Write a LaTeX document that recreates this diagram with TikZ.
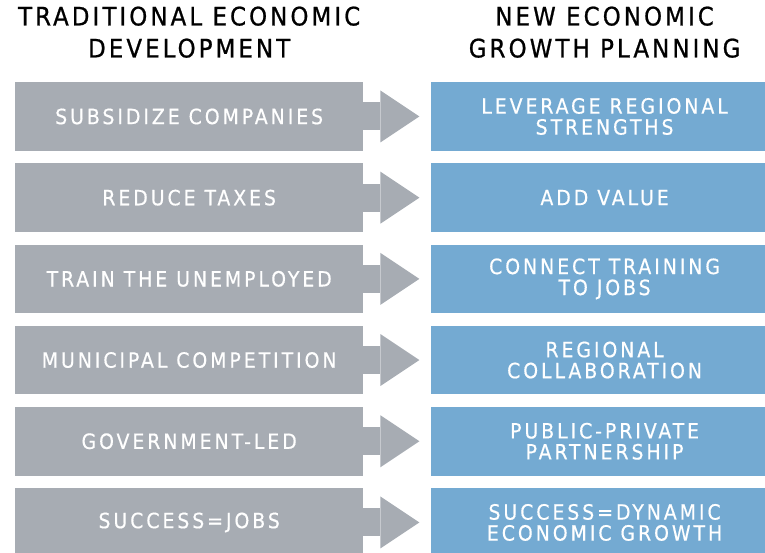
\documentclass[tikz,border=0pt]{standalone}
\usepackage{fontspec}
\setmainfont{DejaVu Sans Condensed}
\newfontfamily\boxfont[LetterSpace=14,FakeBold=0.5]{DejaVu Sans Condensed}
\newfontfamily\headfont[LetterSpace=12,FakeBold=0.8]{DejaVu Sans Condensed}
\usepackage{tikz}
\usetikzlibrary{positioning,arrows.meta}
\definecolor{oldgray}{RGB}{167,172,179}
\definecolor{newblue}{RGB}{116,170,210}

\begin{document}
\begin{tikzpicture}[x=1pt, y=-1pt, node distance=12.3pt,
    oldbox/.style={fill=oldgray, minimum width=348pt, minimum height=68.5pt, inner sep=0pt,
        text=white, align=center, font=\boxfont\fontsize{21}{21}\selectfont},
    newbox/.style={oldbox, fill=newblue},
    heading/.style={inner sep=0pt, align=center, font=\headfont\fontsize{25.5}{32}\selectfont},
    blockarrow/.style={draw=oldgray, line width=28pt, shorten >=11pt,
        -{Triangle[length=39pt, width=52pt, line width=0pt]}}]
            \useasboundingbox (0,0) rectangle (765,552);

            \node[oldbox, anchor=north west] (G1) at (15,82) {SUBSIDIZE COMPANIES};
            \node[oldbox, below=of G1] (G2) {REDUCE TAXES};
            \node[oldbox, below=of G2] (G3) {TRAIN THE UNEMPLOYED};
            \node[oldbox, below=of G3] (G4) {MUNICIPAL COMPETITION};
            \node[oldbox, below=of G4] (G5) {GOVERNMENT-LED};
            \node[oldbox, below=of G5] (G6) {SUCCESS=JOBS};

            \node[newbox, right=67pt of G1] (N1) {LEVERAGE REGIONAL\\STRENGTHS};
            \node[newbox, right=67pt of G2] (N2) {ADD VALUE};
            \node[newbox, right=67pt of G3] (N3) {CONNECT TRAINING\\TO JOBS};
            \node[newbox, right=67pt of G4] (N4) {REGIONAL\\COLLABORATION};
            \node[newbox, right=67pt of G5] (N5) {PUBLIC-PRIVATE\\PARTNERSHIP};
            \node[newbox, right=67pt of G6] (N6) {SUCCESS=DYNAMIC\\ECONOMIC GROWTH};

            \node[heading, above=24pt of G1] (OLD) {TRADITIONAL ECONOMIC\\DEVELOPMENT};
            \node[heading, above=24pt of N1] (NEW) {NEW ECONOMIC\\GROWTH PLANNING};

            \draw[blockarrow] (G1) -- (N1);
            \draw[blockarrow] (G2) -- (N2);
            \draw[blockarrow] (G3) -- (N3);
            \draw[blockarrow] (G4) -- (N4);
            \draw[blockarrow] (G5) -- (N5);
            \draw[blockarrow] (G6) -- (N6);
        \end{tikzpicture}
\end{document}
